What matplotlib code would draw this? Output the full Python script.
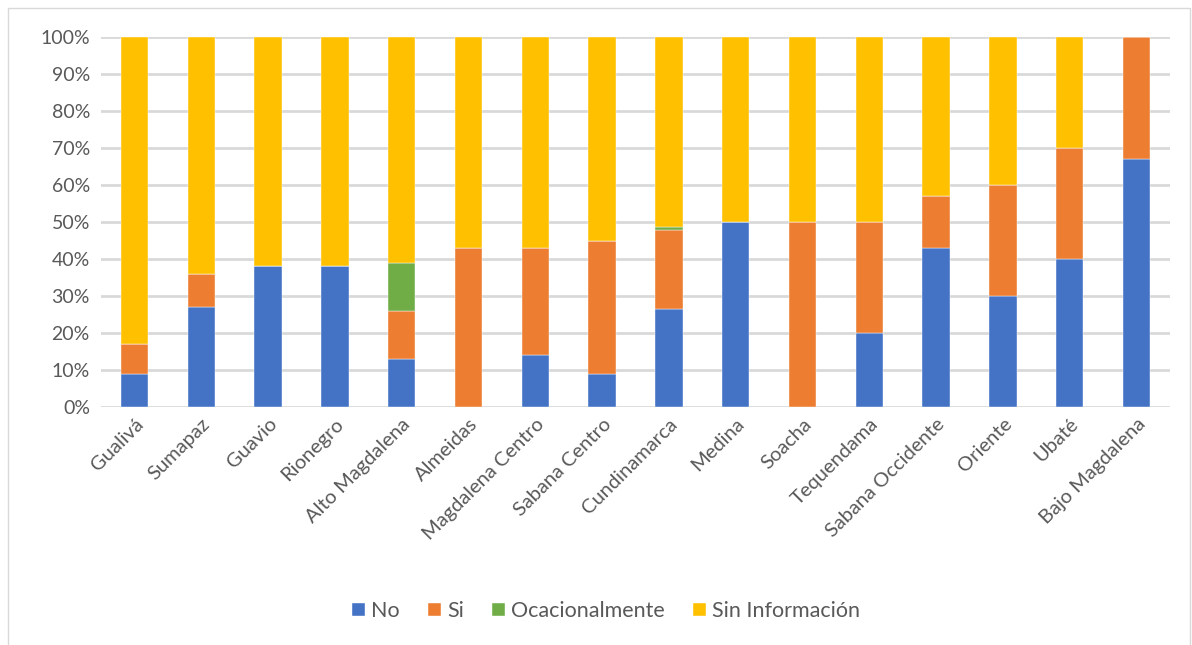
import matplotlib
matplotlib.use("Agg")
import matplotlib.pyplot as plt
from matplotlib.patches import Rectangle
import numpy as np

categories = ["Gualivá", "Sumapaz", "Guavio", "Rionegro", "Alto Magdalena", "Almeidas",
              "Magdalena Centro", "Sabana Centro", "Cundinamarca", "Medina", "Soacha",
              "Tequendama", "Sabana Occidente", "Oriente", "Ubaté", "Bajo Magdalena"]
no = [9, 27, 38, 38, 13, 0, 14, 9, 26.6, 50, 0, 20, 43, 30, 40, 67]
si = [8, 9, 0, 0, 13, 43, 29, 36, 21.2, 0, 50, 30, 14, 30, 30, 33]
ocasional = [0, 0, 0, 0, 13, 0, 0, 0, 0.8, 0, 0, 0, 0, 0, 0, 0]
sin_info = [83, 64, 62, 62, 61, 57, 57, 55, 51.4, 50, 50, 50, 43, 40, 30, 0]

series = [("No", no, "#4472C4"), ("Si", si, "#ED7D31"),
          ("Ocacionalmente", ocasional, "#70AD47"), ("Sin Información", sin_info, "#FFC000")]

plt.rcParams['font.family'] = ['Lato', 'DejaVu Sans']
txt = "#595959"

fig = plt.figure(figsize=(11.92, 6.45), dpi=100)
ax = fig.add_axes([101/1192, 1-407/645, (1170-101)/1192, 370/645])

x = np.arange(len(categories))
bottom = np.zeros(len(categories))
for name, vals, col in series:
    v = np.array(vals, dtype=float)
    ax.bar(x, v, bottom=bottom, width=0.41, color=col, label=name, zorder=3,
           edgecolor="white", linewidth=0.3)
    bottom += v

ax.set_xlim(-0.5, len(categories) - 0.5)
ax.set_ylim(0, 100)
ax.set_yticks(np.arange(0, 101, 10))
ax.set_yticklabels([f"{t}%" for t in range(0, 101, 10)], fontsize=14, color=txt)
ax.set_xticks(x)
ax.set_xticklabels(categories, rotation=45, ha="right", rotation_mode="anchor",
                   fontsize=14.5, color=txt)
ax.tick_params(axis="y", length=0, pad=8)
ax.tick_params(axis="x", length=0, pad=6)
ax.grid(axis="y", color="#D9D9D9", linewidth=2, zorder=0)
for s in ax.spines.values():
    s.set_visible(False)

fig.legend(loc="center", bbox_to_anchor=(606/1192, 1-611/645), ncol=4, frameon=False,
           fontsize=15.5, labelcolor=txt, handlelength=0.6, handleheight=0.6,
           handletextpad=0.3, columnspacing=1.3)

fig.patches.append(Rectangle((8/1192, -0.01), 1 - 10/1192, 1 - 8/645 + 0.01,
                             transform=fig.transFigure, fill=False,
                             edgecolor="#D9D9D9", linewidth=1))
fig.savefig("out.png", dpi=100, facecolor="white")
